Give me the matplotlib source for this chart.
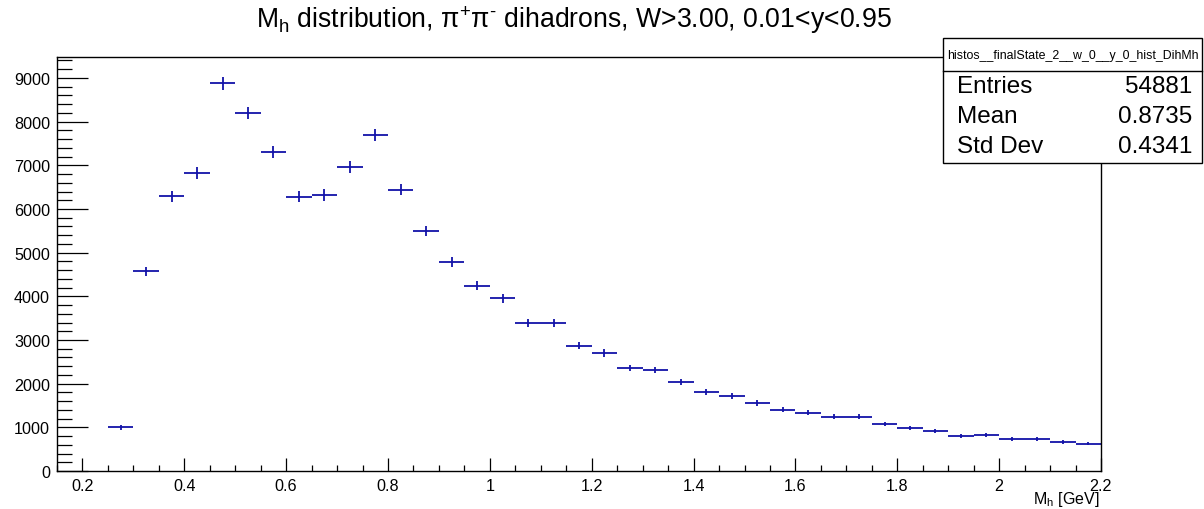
import numpy as np
import matplotlib
matplotlib.use("Agg")
import matplotlib.pyplot as plt
from matplotlib.patches import Rectangle
from matplotlib.lines import Line2D
from matplotlib.ticker import MultipleLocator

# ---- data ----
bin_edges_low = [0.25, 0.30, 0.35, 0.40, 0.45, 0.50, 0.55, 0.60, 0.65, 0.70,
                 0.75, 0.80, 0.85, 0.90, 0.95, 1.00, 1.05, 1.10, 1.15, 1.20,
                 1.25, 1.30, 1.35, 1.40, 1.45, 1.50, 1.55, 1.60, 1.65, 1.70,
                 1.75, 1.80, 1.85, 1.90, 1.95, 2.00, 2.05, 2.10, 2.15]
counts = [1000, 4570, 6290, 6825, 8880, 8200, 7305, 6285, 6320, 6960,
          7695, 6445, 5490, 4780, 4245, 3955, 3380, 3380, 2870, 2700,
          2360, 2315, 2040, 1810, 1720, 1560, 1405, 1330, 1245, 1245,
          1075, 990, 915, 795, 825, 725, 725, 665, 625]
errors = [50, 108, 127, 132, 150, 144, 137, 127, 127, 133,
          140, 128, 118, 110, 104, 100, 93, 93, 86, 83,
          78, 77, 72, 68, 66, 63, 60, 58, 56, 56,
          52, 50, 48, 45, 46, 43, 43, 41, 40]
bin_width = 0.05

title = "M$_{\\mathrm{h}}$ distribution, π$^{\\mathrm{+}}$π$^{\\mathrm{\u2010}}$ dihadrons, W>3.00, 0.01<y<0.95"
xlabel = r"M$_{\mathrm{h}}$ [GeV]"
stats_name = "histos__finalState_2__w_0__y_0_hist_DihMh"
stats_labels = ["Entries", "Mean", "Std Dev"]
stats_values = ["54881", "0.8735", "0.4341"]

# ---- style ----
plt.rcParams['font.family'] = ['Liberation Sans', 'DejaVu Sans']
plt.rcParams['mathtext.fontset'] = 'custom'
plt.rcParams['mathtext.rm'] = 'Liberation Sans'
plt.rcParams['mathtext.it'] = 'Liberation Sans:italic'
plt.rcParams['mathtext.bf'] = 'Liberation Sans:bold'

W, H = 1204, 510
fig = plt.figure(figsize=(W / 100, H / 100), dpi=100)

def fx(px):
    return px / W

def fy(py):
    return 1 - py / H

ax_left, ax_right, ax_top, ax_bottom = 57, 1101, 58, 472
ax = fig.add_axes([fx(ax_left), fy(ax_bottom), fx(ax_right - ax_left), (ax_bottom - ax_top) / H])

color = '#1212a8'
centers = np.array(bin_edges_low) + bin_width / 2
ax.errorbar(centers, counts, xerr=bin_width / 2, yerr=errors, fmt='none',
            ecolor=color, elinewidth=1.3, capsize=0)

ax.set_xlim(0.15, 2.2)
ax.set_ylim(0, 9480)

ax.xaxis.set_major_locator(MultipleLocator(0.2))
ax.xaxis.set_minor_locator(MultipleLocator(0.05))
ax.yaxis.set_major_locator(MultipleLocator(1000))
ax.yaxis.set_minor_locator(MultipleLocator(200))

def xfmt(v, pos):
    s = f"{v:.1f}"
    if s.endswith(".0"):
        s = s[:-2]
    return s

ax.xaxis.set_major_formatter(matplotlib.ticker.FuncFormatter(xfmt))

ax.tick_params(axis='both', which='both', direction='in', top=False, right=False,
               width=0.9, colors='black', labelsize=11.6)
ax.tick_params(axis='y', which='major', length=22.5, pad=5)
ax.tick_params(axis='y', which='minor', length=11)
ax.tick_params(axis='x', which='major', length=9.4, pad=5)
ax.tick_params(axis='x', which='minor', length=4.4)
for sp in ax.spines.values():
    sp.set_linewidth(1.0)

# title
fig.text(fx(574), fy(20), title, ha='center', va='center', fontsize=19.2)

# x label
fig.text(fx(1099), fy(500), xlabel, ha='right', va='center', fontsize=11.5)

# stats box
bx0, bx1, by0, by1, bsep = 943, 1202, 39, 164, 72
fig.patches.append(Rectangle((fx(bx0), fy(by1)), fx(bx1 - bx0), (by1 - by0) / H,
                             transform=fig.transFigure, facecolor='white',
                             edgecolor='black', linewidth=1.0, zorder=5))
fig.lines.append(Line2D([fx(bx0), fx(bx1)], [fy(bsep), fy(bsep)],
                        transform=fig.transFigure, color='black', linewidth=1.0, zorder=6))
fig.text(fx((bx0 + bx1) / 2), fy(56), stats_name, ha='center', va='center',
         fontsize=8.9, zorder=7)
row_y = [87, 117, 147]
for lab, val, ry in zip(stats_labels, stats_values, row_y):
    fig.text(fx(957), fy(ry), lab, ha='left', va='center', fontsize=17.5, zorder=7)
    fig.text(fx(1192), fy(ry), val, ha='right', va='center', fontsize=17.5, zorder=7)

fig.savefig("out.png", dpi=100)
